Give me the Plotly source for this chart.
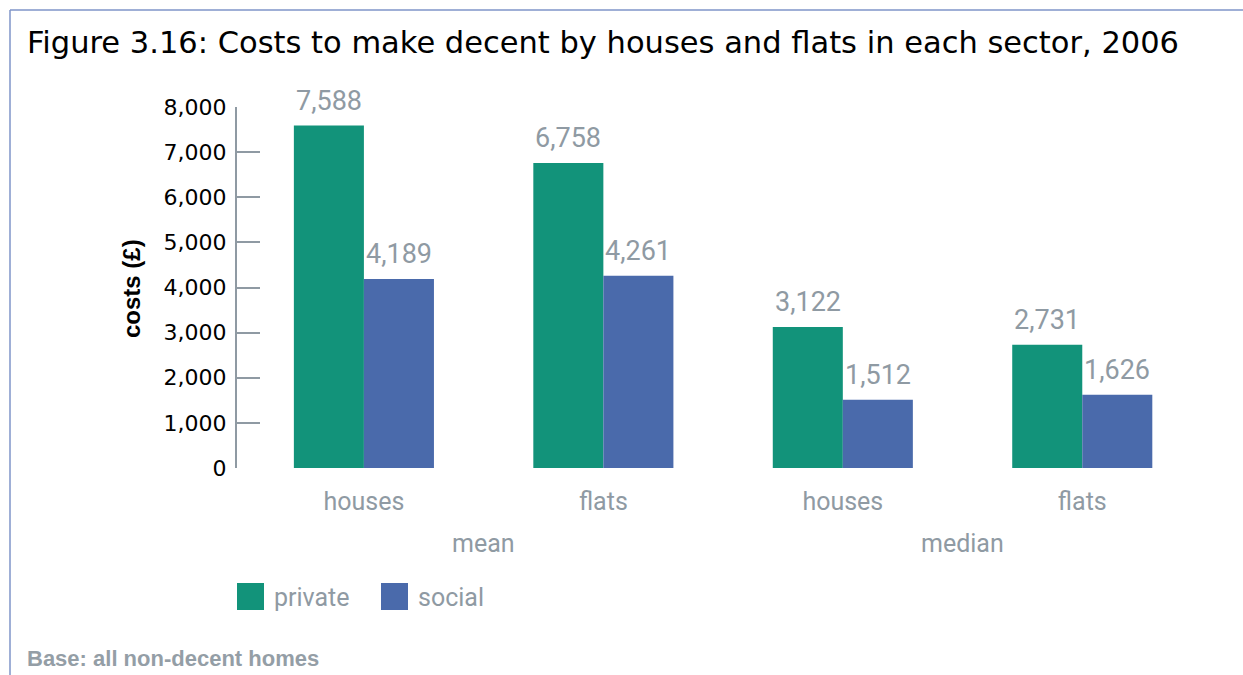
import plotly.graph_objects as go

# ---- data ----
groups = ["mean", "mean", "median", "median"]
types = ["houses", "flats", "houses", "flats"]
series_names = ["private", "social"]
private_vals = [7588, 6758, 3122, 2731]
social_vals = [4189, 4261, 1512, 1626]
y_ticks = [0, 1000, 2000, 3000, 4000, 5000, 6000, 7000, 8000]
colors = ["#12937a", "#4a6aab"]

W, H = 1243, 675
L, R, T, B = 237, 41, 107, 207
pw, ph = W - L - R, H - T - B


def px_x(px):
    return (px - L) / pw


def px_y(py):
    return (H - B - py) / ph


xpos = list(range(len(types)))
grey = "#8f9aa3"
BARGAP = 0.415
slot = (1 - BARGAP) / len(series_names)

fig = go.Figure()
all_vals = [private_vals, social_vals]
for k, (name, vals, col) in enumerate(zip(series_names, all_vals, colors)):
    fig.add_trace(go.Bar(
        x=xpos, y=vals, name=name, marker_color=col, marker_line_width=0,
        showlegend=False, hoverinfo="x+y",
    ))
    off = (k - (len(series_names) - 1) / 2) * slot
    for xi, v in zip(xpos, vals):
        fig.add_annotation(
            x=xi + off, xref="x", y=v, yref="y", text=f"{v:,}",
            showarrow=False, yanchor="bottom", yshift=7,
            font=dict(size=27, color=grey, family="Roboto"),
        )

fig.update_layout(
    width=W, height=H,
    margin=dict(l=L, r=R, t=T, b=B),
    paper_bgcolor="white", plot_bgcolor="white",
    barmode="group", bargap=BARGAP, bargroupgap=0,
    font=dict(family="Roboto", color="black"),
    title=dict(
        text="Figure 3.16: Costs to make decent by houses and flats in each sector, 2006",
        x=27 / W, xanchor="left", xref="container",
        y=1 - 42 / H, yanchor="middle", yref="container",
        font=dict(size=30.5, family="DejaVu Sans", color="black"),
    ),
    xaxis=dict(
        range=[-0.53, 3.5], tickvals=xpos, ticktext=types,
        showline=False, showgrid=False, zeroline=False, ticks="",
        tickfont=dict(size=25, color=grey, family="Roboto"),
        ticklabelstandoff=16,
    ),
    yaxis=dict(
        range=[0, 8000], tickvals=y_ticks, tickformat=",",
        showgrid=False, zeroline=False,
        showline=True, linecolor=grey, linewidth=2,
        ticks="inside", ticklen=23, tickwidth=2, tickcolor=grey,
        tickfont=dict(size=22, color="black", family="DejaVu Sans"),
        ticklabelstandoff=4,
    ),
)

# group labels (mean / median) centred under their categories
uniq = []
for g in groups:
    if g not in uniq:
        uniq.append(g)
for g in uniq:
    idx = [i for i, gg in enumerate(groups) if gg == g]
    fig.add_annotation(
        x=sum(idx) / len(idx), xref="x", y=px_y(543), yref="paper",
        text=g, showarrow=False, yanchor="middle",
        font=dict(size=25, color=grey, family="Roboto"),
    )

# y-axis title
fig.add_annotation(
    x=px_x(131), xref="paper", y=px_y(289), yref="paper",
    xanchor="center", yanchor="middle",
    text="<b>costs (£)</b>", textangle=-90, showarrow=False,
    font=dict(size=24, color="black", family="Liberation Sans"),
)

# legend (swatches + labels)
sw_left = [237, 381]
for name, col, xl in zip(series_names, colors, sw_left):
    fig.add_shape(type="rect", xref="paper", yref="paper",
                  x0=px_x(xl), x1=px_x(xl + 27), y0=px_y(610), y1=px_y(583),
                  fillcolor=col, line_width=0)
    fig.add_annotation(x=px_x(xl + 35), xref="paper", y=px_y(597), yref="paper",
                       text=name, showarrow=False, xanchor="left", yanchor="middle",
                       font=dict(size=25, color=grey, family="Roboto"))

# footnote
fig.add_annotation(
    x=px_x(25), xref="paper", y=px_y(658), yref="paper",
    text="<b>Base: all non-decent homes</b>", showarrow=False,
    xanchor="left", yanchor="middle",
    font=dict(size=22, color="#949ea6", family="Liberation Sans"),
)

# frame lines
border = "#7f95c8"
fig.add_shape(type="line", xref="paper", yref="paper",
              x0=px_x(10), x1=px_x(W + 5), y0=px_y(10), y1=px_y(10),
              line=dict(color=border, width=1.5))
fig.add_shape(type="line", xref="paper", yref="paper",
              x0=px_x(10), x1=px_x(10), y0=px_y(10), y1=px_y(H + 5),
              line=dict(color=border, width=1.5))

fig.write_html(
    "out.html",
    config={"displayModeBar": False},
    post_script="document.body.style.margin='0';document.body.style.overflow='hidden';",
)
